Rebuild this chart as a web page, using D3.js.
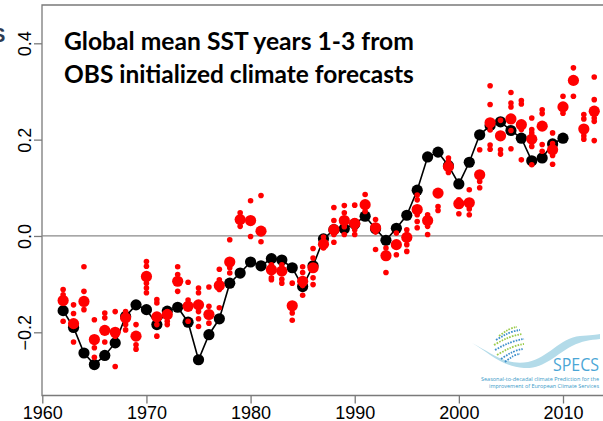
<!DOCTYPE html>
<html>
<head>
<meta charset="utf-8">
<script src="https://cdn.jsdelivr.net/npm/d3@7"></script>
<style>
  html, body { margin: 0; padding: 0; background: #fff; }
  svg { display: block; }
</style>
</head>
<body>
<div id="chart"></div>
<script>
// observed global mean SST anomaly (black line)
const obsYears = d3.range(1962, 2011);
const obsValues = [
  -0.155, -0.190, -0.243, -0.267, -0.248, -0.222, -0.167, -0.143, -0.153, -0.184,
  -0.156, -0.148, -0.179, -0.257, -0.205, -0.172, -0.098, -0.077, -0.054, -0.062,
  -0.047, -0.050, -0.066, -0.105, -0.062, -0.006, 0.013, 0.015, 0.025, 0.041,
  0.015, -0.009, 0.016, 0.043, 0.095, 0.164, 0.174, 0.146, 0.108, 0.153,
  0.210, 0.229, 0.237, 0.219, 0.203, 0.156, 0.162, 0.191, 0.203
];

// forecasts: ensemble mean (big red) and members (small red)
const fcYears = d3.range(1962, 2014);
const fcMean = [
  -0.134, -0.182, -0.136, -0.215, -0.196, -0.200, -0.170, -0.208, -0.084, -0.168,
  -0.163, -0.094, -0.146, -0.143, -0.163, -0.103, -0.054, 0.034, 0.032, 0.010,
  -0.070, -0.073, -0.145, -0.094, -0.066, -0.017, 0.013, 0.032, 0.026, 0.065,
  0.017, -0.041, -0.018, -0.003, 0.055, 0.032, 0.089, 0.144, 0.067, 0.069,
  0.127, 0.235, 0.208, 0.243, 0.231, 0.201, 0.228, 0.179, 0.268, 0.323,
  0.222, 0.259
];
const fcMembers = [
  [-0.111, -0.122, -0.177],
  [-0.143, -0.161, -0.220],
  [-0.064, -0.115, -0.153],
  [-0.174, -0.232, -0.252],
  [-0.160, -0.170, -0.220],
  [-0.157, -0.208, -0.271],
  [-0.157, -0.184, -0.195],
  [-0.184, -0.226, -0.235],
  [-0.053, -0.063, -0.098, -0.108, -0.118],
  [-0.132, -0.139, -0.184, -0.208],
  [-0.157, -0.177, -0.184],
  [-0.064, -0.080, -0.115],
  [-0.096, -0.133, -0.177],
  [-0.108, -0.118, -0.157, -0.172, -0.188],
  [-0.106, -0.146, -0.181],
  [-0.069, -0.091, -0.111, -0.149],
  [-0.008, -0.066, -0.077],
  [0.048, 0.020],
  [0.073, -0.001],
  [0.084, -0.012],
  [-0.060, -0.087, -0.091],
  [-0.060, -0.090, -0.098],
  [-0.098, -0.160, -0.175],
  [-0.064, -0.076, -0.103, -0.123],
  [-0.026, -0.046, -0.087, -0.101],
  [-0.002, -0.025],
  [0.059, 0.032, 0.003, -0.013],
  [0.063, 0.048, 0.019, 0.003],
  [0.064, 0.013, 0.003],
  [0.086, 0.051],
  [0.034, 0.008, -0.028],
  [-0.025, -0.076],
  [0.006, -0.039],
  [0.013, -0.018, -0.032],
  [0.085, 0.075, 0.044, 0.030, 0.017],
  [0.044, 0.020, 0.003],
  [0.061, 0.053],
  [0.162, 0.155, 0.132],
  [0.075, 0.046],
  [0.096, 0.056, 0.044],
  [0.179, 0.113, 0.100],
  [0.312, 0.273, 0.220, 0.189, 0.180],
  [0.240, 0.179, 0.170],
  [0.298, 0.276, 0.268, 0.219, 0.181],
  [0.281, 0.274, 0.221, 0.158],
  [0.245, 0.221, 0.214, 0.186, 0.148],
  [0.262, 0.254, 0.190, 0.176],
  [0.214, 0.192, 0.167, 0.149],
  [0.290, 0.255],
  [0.349, 0.290],
  [0.252, 0.243, 0.208, 0.201],
  [0.330, 0.283, 0.245, 0.238, 0.198]
];

const xTicks = [1960, 1970, 1980, 1990, 2000, 2010];
const yTicks = [-0.2, 0.0, 0.2, 0.4];
const titleLines = ["Global mean SST years 1-3 from", "OBS initialized climate forecasts"];

const config = {
  width: 603, height: 421,
  box: { left: 42, top: 5, bottom: 395.5, right: 612 },
  tickLength: 8,
  bigRadius: 5.6,
  smallRadius: 2.8,
  labelFont: "'Liberation Sans', Arial, Helvetica, sans-serif",
  labelSize: "18px",
  titleX: 64, titleWidth: 350,   // px
};

const svg = d3.select("#chart").append("svg")
  .attr("width", config.width)
  .attr("height", config.height);

const x = d3.scaleLinear().domain([1960, 2010]).range([42.3, 563]);
const y = d3.scaleLinear().domain([-0.2, 0.4]).range([332.3, 43.3]);

// cut-off glyph at the far left edge
svg.append("text")
  .attr("x", -8).attr("y", 42)
  .style("font-family", config.labelFont)
  .style("font-weight", "700").style("font-size", "20px")
  .attr("fill", "#2d3b52")
  .text("S");

// plot box (left, top, bottom)
const b = config.box;
svg.append("path")
  .attr("d", `M${b.right},${b.top}H${b.left}V${b.bottom}H${b.right}`)
  .attr("fill", "none")
  .attr("stroke", "#7a7a7a")
  .attr("stroke-width", 1.3);

// zero line
svg.append("line")
  .attr("x1", b.left).attr("x2", b.right)
  .attr("y1", y(0)).attr("y2", y(0))
  .attr("stroke", "#8a8a8a")
  .attr("stroke-width", 1.3);

// x axis
const xAxis = svg.append("g")
  .attr("transform", `translate(0,${b.bottom})`)
  .attr("font-size", null).attr("font-family", null)
  .call(d3.axisBottom(x).tickValues(xTicks).tickFormat(d3.format("d"))
    .tickSize(config.tickLength));
xAxis.select(".domain").remove();
xAxis.selectAll("line").attr("stroke", "#7a7a7a").attr("stroke-width", 1.3);
xAxis.selectAll("text")
  .style("font-family", config.labelFont)
  .style("font-size", config.labelSize)
  .attr("fill", "#000")
  .attr("dy", null).attr("y", 23.5);

// y axis, labels rotated as in R
const yAxis = svg.append("g")
  .attr("transform", `translate(${b.left},0)`)
  .call(d3.axisLeft(y).tickValues(yTicks).tickFormat(d => d3.format(".1f")(d).replace("-", "\u2212"))
    .tickSize(config.tickLength));
yAxis.select(".domain").remove();
yAxis.selectAll("line").attr("stroke", "#7a7a7a").attr("stroke-width", 1.3);
yAxis.selectAll("text")
  .style("font-family", config.labelFont)
  .style("font-size", config.labelSize)
  .attr("fill", "#000")
  .attr("x", null).attr("dy", null)
  .attr("text-anchor", "middle")
  .attr("transform", "translate(-11,0) rotate(-90)");

// observations: line + black dots
const obs = obsYears.map((yr, i) => ({ yr, v: obsValues[i] }));
svg.append("path")
  .datum(obs)
  .attr("fill", "none")
  .attr("stroke", "#000")
  .attr("stroke-width", 1.6)
  .attr("d", d3.line().x(d => x(d.yr)).y(d => y(d.v)));
svg.append("g").selectAll("circle")
  .data(obs).join("circle")
  .attr("cx", d => x(d.yr)).attr("cy", d => y(d.v))
  .attr("r", config.bigRadius)
  .attr("fill", "#000");

// forecasts drawn on top
const members = fcYears.flatMap((yr, i) => fcMembers[i].map(v => ({ yr, v })));
const fc = svg.append("g").attr("fill", "#ff0000");
fc.selectAll("circle.member")
  .data(members).join("circle")
  .attr("class", "member")
  .attr("cx", d => x(d.yr)).attr("cy", d => y(d.v))
  .attr("r", config.smallRadius);
fc.selectAll("circle.mean")
  .data(fcYears.map((yr, i) => ({ yr, v: fcMean[i] }))).join("circle")
  .attr("class", "mean")
  .attr("cx", d => x(d.yr)).attr("cy", d => y(d.v))
  .attr("r", config.bigRadius);

// title, fitted to the width in the picture
const title = svg.append("g");
titleLines.forEach((line, i) => {
  const t = title.append("text")
    .attr("x", config.titleX)
    .attr("y", 50 + i * 32.5)
    .style("font-family", "Lato, 'Open Sans', sans-serif")
    .style("font-weight", "700")
    .style("font-size", "24px")
    .attr("fill", "#000")
    .text(line);
  const w = t.node().getComputedTextLength();
  t.style("font-size", (24 * config.titleWidth / w).toFixed(2) + "px");
});

// SPECS logo (bottom right)
const logo = svg.append("g");
logo.append("path")
  .attr("d", "M472,343 C490,352 505,366 528,362 C548,358 560,338 580,336 C590,335 597,335 600,334 " +
             "L600,339 C590,340 582,341 572,346 C556,354 545,369 524,368 C502,367 488,352 472,343 Z")
  .attr("fill", "#b3dbe9");
// dotted sphere
const sphereLines = [
  [[496, 340], [520, 330]], [[494, 345], [522, 334]], [[495, 350], [524, 339]],
  [[497, 355], [524, 344]], [[501, 359], [523, 349]], [[499, 336], [517, 327]],
  [[505, 362], [520, 354]]
];
sphereLines.forEach((s, i) => {
  logo.append("path")
    .attr("d", `M${s[0][0]},${s[0][1]} Q${(s[0][0] + s[1][0]) / 2 + 2},${(s[0][1] + s[1][1]) / 2 - 4} ${s[1][0]},${s[1][1]}`)
    .attr("fill", "none")
    .attr("stroke", i % 2 ? "#9ccb4d" : "#3d8fcb")
    .attr("stroke-width", 1.8)
    .attr("stroke-dasharray", "1.6 1.2");
});
logo.append("text")
  .attr("x", 599).attr("y", 371)
  .attr("text-anchor", "end")
  .attr("textLength", 46).attr("lengthAdjust", "spacingAndGlyphs")
  .style("font-family", "'Open Sans', sans-serif").style("font-size", "19px")
  .attr("fill", "#4ba6d6")
  .text("SPECS");
[["Seasonal-to-decadal climate Prediction for the", 381, 118],
 ["improvement of European Climate Services", 387.5, 110]].forEach(d => {
  logo.append("text")
    .attr("x", 599).attr("y", d[1])
    .attr("text-anchor", "end")
    .attr("textLength", d[2]).attr("lengthAdjust", "spacingAndGlyphs")
    .style("font-family", "'Open Sans', sans-serif").style("font-size", "5.5px")
    .attr("fill", "#3a9ac8")
    .text(d[0]);
});
</script>
</body>
</html>
